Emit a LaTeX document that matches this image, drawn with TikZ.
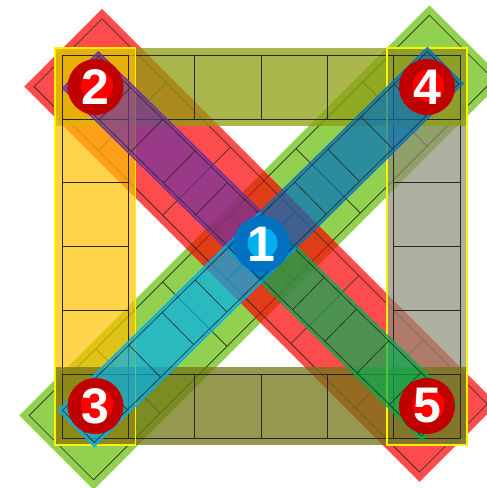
\documentclass[tikz,border=0pt]{standalone}
\usepackage{fontspec}
\setmainfont{Liberation Sans}
\usepackage{xcolor}
\definecolor{rowtop}{RGB}{142,158,16}
\definecolor{rowbot}{RGB}{115,118,22}
\definecolor{colleft}{HTML}{FFC000}
\definecolor{colright}{RGB}{141,142,119}
\definecolor{diagred}{HTML}{FF0000}
\definecolor{diaggreen}{HTML}{92D050}
\definecolor{purp}{HTML}{7030A0}
\definecolor{cyanb}{HTML}{00B0F0}
\definecolor{blueb}{HTML}{0070C0}
\definecolor{greenb}{HTML}{00B050}
\definecolor{numdark}{HTML}{C00000}
\definecolor{numlight}{HTML}{FF0000}

\begin{document}
\begin{tikzpicture}[x=1pt, y=-1pt,
    cell/.style={draw=black!85, line width=0.6pt},
    rim/.style={draw=yellow, line width=1.6pt},
    narrow/.style={fill=#1, fill opacity=0.7, draw=#1, draw opacity=0.85, line width=1pt},
    num/.style={circle, minimum size=56pt, inner sep=0pt, text=white,
      font=\fontsize{50}{50}\selectfont\bfseries},
    rednum/.style={num, fill=numdark, path picture={
      \fill[numlight] ([shift={(1.5pt,1pt)}]path picture bounding box.center) circle (16pt);}},
    bluenum/.style={num, fill=blueb, path picture={
      \fill[cyanb] ([shift={(1pt,1pt)}]path picture bounding box.center) circle (15pt);}}]
    \useasboundingbox (0,0) rectangle (487,488);
    \clip (0,0) rectangle (487,488);

    % wide diagonals
    \begin{scope}[shift={(261.5,247.5)}, rotate=45]
        \fill[diaggreen] (-290,-52.5) rectangle (290,52.5);
        \draw[cell] (-283,-45.5) rectangle (283,45.5);
        \foreach \t in {-188.7,-94.3,0,94.3,188.7}
            \draw[cell] (\t,-45.5) -- (\t,45.5);
    \end{scope}
    \begin{scope}[shift={(260.7,245.4)}, rotate=-45]
        \fill[diagred, fill opacity=0.7] (-279.5,-55) rectangle (279.5,55);
        \draw[cell] (-272.5,-48) rectangle (272.5,48);
        \foreach \t in {-181.7,-90.8,0,90.8,181.7}
            \draw[cell] (\t,-48) -- (\t,48);
    \end{scope}

    % rows and columns, in the order they overlap
    \foreach \kind/\p/\col in {c/393.7/colright, r/55/rowtop, c/62/colleft, r/374.2/rowbot} {
        \if\kind r
            \fill[\col, fill opacity=0.75] (55,\p-7) rectangle (467,\p+70.8);
            \draw[cell] (62,\p) rectangle (460,\p+63.8);
            \foreach \i in {1,...,5}
                \draw[cell] (62+66.33*\i,\p) -- ++(0,63.8);
        \else
            \fill[\col, fill opacity=0.7] (\p-7,48) rectangle (\p+73.3,445);
            \draw[cell] (\p,55) rectangle (\p+66.3,438);
            \foreach \j in {1,...,5}
                \draw[cell] (\p,55+63.83*\j) -- ++(66.3,0);
        \fi
    }
    \foreach \p in {62,393.7}
        \draw[rim] (\p-7,48) rectangle (\p+73.3,445);

    % narrow diagonals through the centre
    \begin{scope}[shift={(260,246.1)}, rotate=-44.45]
        \fill[narrow=purp] (-251.5,-25.5) rectangle (22.6,25.5);
        \fill[narrow=greenb] (-22.6,-25.5) rectangle (251.5,25.5);
        \draw[narrow=purp, fill opacity=0] (-251.5,-25.5) rectangle (22.6,25.5);
        \draw[cell] (-248.5,-22.5) rectangle (248.5,22.5);
        \foreach \t in {22.6,67.8,113,158.2,203.4} {
            \draw[cell] (\t,-22.5) -- (\t,22.5);
            \draw[cell] (-\t,-22.5) -- (-\t,22.5);
        }
    \end{scope}
    \begin{scope}[shift={(260.8,247)}, rotate=44.53]
        \fill[narrow=cyanb] (-258.8,-25.5) rectangle (23.3,25.5);
        \fill[narrow=blueb] (-23.3,-25.5) rectangle (258.8,25.5);
        \draw[narrow=cyanb, fill opacity=0] (-258.8,-25.5) rectangle (23.3,25.5);
        \draw[cell] (-255.8,-22.5) rectangle (255.8,22.5);
        \foreach \t in {23.3,69.8,116.3,162.8,209.3} {
            \draw[cell] (\t,-22.5) -- (\t,22.5);
            \draw[cell] (-\t,-22.5) -- (-\t,22.5);
        }
    \end{scope}

    % numbered markers
    \node[bluenum] (n1) at (261.5,244) {1};
    \node[rednum] (n2) at (95.5,87) {2};
    \node[rednum] (n3) at (95.5,406) {3};
    \node[rednum] (n4) at (427,87) {4};
    \node[rednum] (n5) at (427,406) {5};
\end{tikzpicture}
\end{document}
